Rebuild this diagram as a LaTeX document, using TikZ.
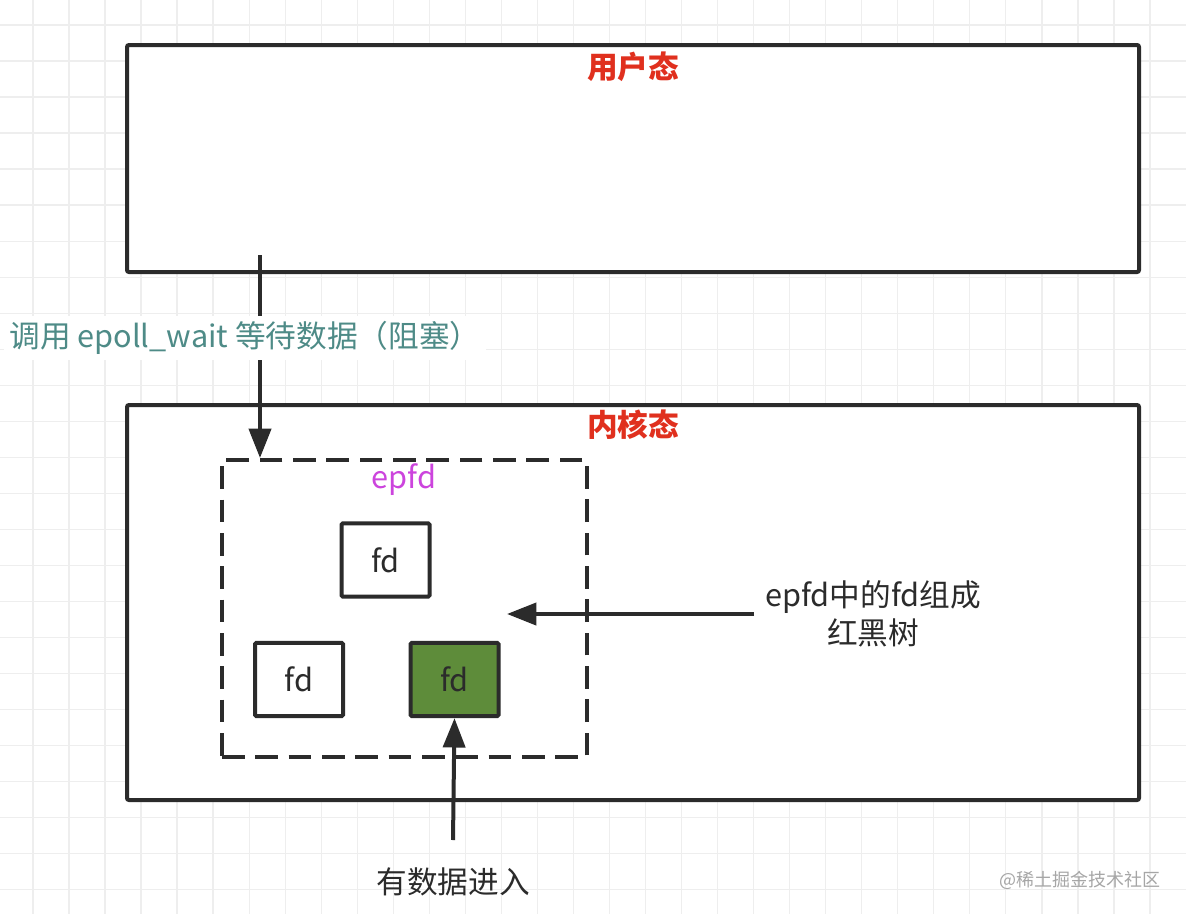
\documentclass[tikz,border=0pt]{standalone}
\usepackage{fontspec}
\setmainfont{Noto Sans CJK SC}
\usepackage{xcolor}
\usepackage{tikz}
\usetikzlibrary{arrows.meta, positioning, calc}
\definecolor{traco}{HTML}{2B2B2B}
\definecolor{grade}{HTML}{EEEEEE}
\definecolor{vermelho}{HTML}{E0301E}
\definecolor{verdeazul}{HTML}{4E8B87}
\definecolor{roxo}{HTML}{CC44DD}
\definecolor{verde}{HTML}{5E8C3A}
\tikzset{
    modo/.style    = {draw=traco, line width=3pt, fill=white, rounded corners=1.5pt, inner sep=0pt},
    titulo/.style  = {font=\fontsize{23}{27}\selectfont\bfseries, text=vermelho},
    epcaixa/.style = {draw=traco, line width=3pt, dash pattern=on 17pt off 8pt, inner sep=0pt},
    fdn/.style     = {draw=traco, line width=3pt, fill=white, rounded corners=1pt,
                      minimum width=66pt, minimum height=55pt, inner sep=0pt, text=traco},
    seta/.style    = {-{Triangle[length=22pt, width=16.5pt]}, line width=3pt, traco},
    chamada/.style = {fill=white, text=verdeazul, inner sep=4pt},
    nota/.style    = {text=traco, align=center, inner sep=8pt},
    marca/.style   = {font=\fontsize{13.5}{16}\selectfont, text=black!35},
}

\begin{document}
\begin{tikzpicture}[x=0.75pt, y=-0.75pt, font=\fontsize{23}{28.5}\selectfont]
    \fill[white] (0,0) rectangle (1186,914);
    \useasboundingbox (0,0) rectangle (1186,914);
    \foreach \i in {0,...,31}
        \draw[grade, line width=1pt] ({33+36.03*\i},0) -- ({33+36.03*\i},914);
    \foreach \j in {0,...,24}
        \draw[grade, line width=1pt] (0,{25+36.03*\j}) -- (1186,{25+36.03*\j});

    \node[modo, minimum width=759pt, minimum height=170.25pt] (user) at (633,158.5) {};
    \node[titulo] (userlbl) at (633,67) {用户态};
    \node[modo, minimum width=759pt, minimum height=296.25pt] (kernel) at (633,602.5) {};
    \node[titulo] (kernlbl) at (633,425) {内核态};

    \node[epcaixa, minimum width=273.75pt, minimum height=222.75pt] (epfd) at (404.5,608.5) {};
    \node[text=roxo] (eplbl) at (404,480) {epfd};
    \node[fdn] (fd1) at (385.5,560) {fd};
    \node[fdn] (fd2) at (299,679.5) {fd};
    \node[fdn, fill=verde] (fd3) at (454.5,679.5) {fd};

    \coordinate (call) at (260,255);
    \draw[seta] (call) -- (call |- epfd.north);
    \node[chamada] (calllbl) at (245,338) {调用 epoll\_wait 等待数据（阻塞）};

    \node[nota] (rbt) at (873,614) {epfd中的fd组成\\红黑树};
    \coordinate (rbtend) at (507,614);
    \draw[seta] (rbt.west) -- (rbtend);

    \node[nota] (data) at (453,882) {有数据进入};
    \coordinate (datain) at (453,840);
    \draw[seta] (datain) -- (fd3.south);

    \node[marca] (wm) at (1080,880) {@稀土掘金技术社区};
\end{tikzpicture}
\end{document}
